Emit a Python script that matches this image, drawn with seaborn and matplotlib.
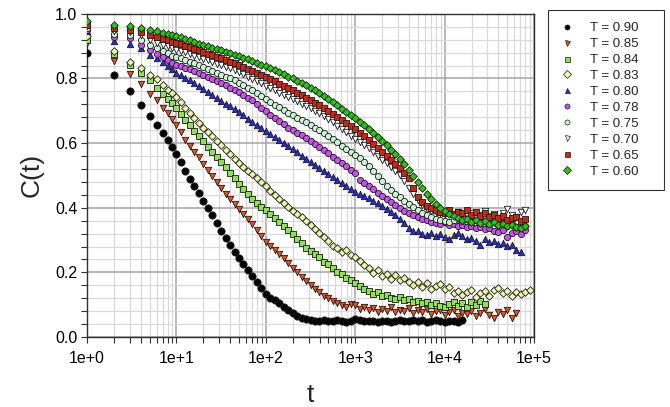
import numpy as np
import matplotlib
matplotlib.use("Agg")
import matplotlib.pyplot as plt
import seaborn as sns
from matplotlib.ticker import LogLocator, FuncFormatter, MultipleLocator, NullFormatter

# ---------------- data ----------------
T_TIMES = [1, 2, 3, 4, 5, 6, 7, 8, 9,
           10, 11.2, 12.6, 14.1, 15.8, 17.8, 20.0, 22.4, 25.1, 28.2,
           31.6, 35.5, 39.8, 44.7, 50.1, 56.2, 63.1, 70.8, 79.4, 89.1,
           100, 112, 126, 141, 158, 178, 200, 224, 251, 282,
           316, 355, 398, 447, 501, 562, 631, 708, 794, 891,
           1000, 1122, 1259, 1413, 1585, 1778, 1995, 2239, 2512, 2818,
           3162, 3548, 3981, 4467, 5012, 5623, 6310, 7079, 7943, 8913,
           10000, 11220, 12589, 14125, 15849, 17783, 19953, 22387, 25119, 28184,
           31623, 35481, 39811, 44668, 50119, 56234, 63096, 70795, 79433, 89125]

C_090 = [0.880, 0.811, 0.762, 0.718, 0.685, 0.656, 0.632, 0.610, 0.589,
         0.567, 0.540, 0.514, 0.489, 0.467, 0.445, 0.422, 0.398, 0.376, 0.353,
         0.328, 0.305, 0.284, 0.264, 0.245, 0.227, 0.208, 0.189, 0.171, 0.152,
         0.134, 0.122, 0.113, 0.104, 0.094, 0.085, 0.074, 0.066, 0.060, 0.055,
         0.053, 0.051, 0.049, 0.052, 0.050, 0.048, 0.052, 0.050, 0.047, 0.051,
         0.055, 0.053, 0.049, 0.048, 0.050, 0.046, 0.049, 0.051, 0.047, 0.050,
         0.052, 0.048, 0.051, 0.054, 0.049, 0.052, 0.047, 0.050, 0.053, 0.048,
         0.047, 0.051, 0.049, 0.046, 0.052]

C_085 = [0.910, 0.855, 0.814, 0.783, 0.752, 0.732, 0.709, 0.692, 0.676,
         0.655, 0.633, 0.611, 0.590, 0.573, 0.557, 0.536, 0.517, 0.498, 0.479,
         0.461, 0.444, 0.428, 0.412, 0.397, 0.381, 0.366, 0.350, 0.331, 0.314,
         0.294, 0.282, 0.270, 0.257, 0.243, 0.229, 0.215, 0.201, 0.187, 0.174,
         0.160, 0.150, 0.138, 0.128, 0.121, 0.112, 0.106, 0.098, 0.092, 0.103,
         0.100, 0.086, 0.094, 0.082, 0.090, 0.078, 0.088, 0.081, 0.092, 0.076,
         0.085, 0.079, 0.090, 0.074, 0.083, 0.077, 0.088, 0.072, 0.080, 0.085,
         0.069, 0.078, 0.084, 0.066, 0.075, 0.070, 0.081, 0.064, 0.073, 0.086,
         0.068, 0.060, 0.076, 0.071, 0.082, 0.059, 0.074]

C_084 = [0.920, 0.877, 0.843, 0.817, 0.794, 0.771, 0.752, 0.738, 0.725,
         0.708, 0.689, 0.672, 0.655, 0.638, 0.622, 0.605, 0.589, 0.573, 0.558,
         0.542, 0.525, 0.508, 0.491, 0.474, 0.458, 0.443, 0.428, 0.414, 0.402,
         0.392, 0.380, 0.368, 0.355, 0.342, 0.330, 0.318, 0.304, 0.290, 0.276,
         0.266, 0.256, 0.246, 0.232, 0.226, 0.214, 0.201, 0.195, 0.183, 0.176,
         0.166, 0.157, 0.148, 0.142, 0.134, 0.138, 0.127, 0.131, 0.122, 0.118,
         0.124, 0.113, 0.117, 0.108, 0.112, 0.104, 0.109, 0.100, 0.106, 0.097,
         0.093, 0.101, 0.109, 0.096, 0.104, 0.092, 0.107, 0.098, 0.110, 0.101]

C_083 = [0.930, 0.884, 0.851, 0.833, 0.812, 0.797, 0.781, 0.765, 0.754,
         0.742, 0.726, 0.709, 0.692, 0.677, 0.662, 0.648, 0.635, 0.621, 0.607,
         0.594, 0.580, 0.566, 0.552, 0.539, 0.526, 0.515, 0.503, 0.492, 0.480,
         0.467, 0.453, 0.440, 0.428, 0.416, 0.403, 0.390, 0.382, 0.371, 0.360,
         0.347, 0.334, 0.321, 0.310, 0.298, 0.283, 0.274, 0.262, 0.268, 0.254,
         0.247, 0.236, 0.222, 0.214, 0.199, 0.207, 0.188, 0.195, 0.181, 0.192,
         0.176, 0.184, 0.169, 0.162, 0.171, 0.155, 0.166, 0.150, 0.158, 0.163,
         0.147, 0.154, 0.136, 0.142, 0.131, 0.140, 0.146, 0.124, 0.137, 0.141,
         0.128, 0.145, 0.152, 0.135, 0.141, 0.126, 0.138, 0.132, 0.140, 0.146]

C_080 = [0.946, 0.915, 0.907, 0.893, 0.874, 0.862, 0.850, 0.838, 0.829,
         0.818, 0.810, 0.802, 0.794, 0.786, 0.777, 0.768, 0.759, 0.750, 0.740,
         0.731, 0.722, 0.714, 0.705, 0.696, 0.686, 0.676, 0.666, 0.656, 0.647,
         0.638, 0.629, 0.620, 0.610, 0.600, 0.591, 0.581, 0.571, 0.561, 0.551,
         0.542, 0.533, 0.524, 0.515, 0.505, 0.496, 0.487, 0.478, 0.468, 0.459,
         0.450, 0.443, 0.436, 0.429, 0.422, 0.415, 0.406, 0.397, 0.388, 0.378,
         0.366, 0.352, 0.338, 0.328, 0.327, 0.320, 0.316, 0.322, 0.312, 0.318,
         0.309, 0.304, 0.316, 0.321, 0.312, 0.302, 0.307, 0.298, 0.285, 0.303,
         0.294, 0.298, 0.287, 0.290, 0.282, 0.285, 0.270, 0.262]

C_078 = [0.950, 0.928, 0.924, 0.905, 0.887, 0.876, 0.866, 0.858, 0.849,
         0.843, 0.838, 0.833, 0.828, 0.822, 0.816, 0.810, 0.804, 0.798, 0.792,
         0.786, 0.779, 0.772, 0.765, 0.757, 0.749, 0.741, 0.732, 0.722, 0.710,
         0.698, 0.688, 0.678, 0.668, 0.658, 0.648, 0.640, 0.632, 0.624, 0.615,
         0.606, 0.597, 0.588, 0.578, 0.568, 0.558, 0.548, 0.538, 0.528, 0.518,
         0.508, 0.486, 0.478, 0.468, 0.457, 0.445, 0.436, 0.426, 0.417, 0.408,
         0.398, 0.389, 0.383, 0.376, 0.370, 0.366, 0.362, 0.357, 0.353, 0.350,
         0.355, 0.346, 0.351, 0.343, 0.347, 0.339, 0.344, 0.336, 0.341, 0.333,
         0.338, 0.329, 0.326, 0.331, 0.310, 0.322, 0.329, 0.318, 0.330]

C_075 = [0.957, 0.938, 0.936, 0.920, 0.903, 0.893, 0.885, 0.878, 0.871,
         0.866, 0.862, 0.857, 0.852, 0.847, 0.842, 0.836, 0.830, 0.824, 0.818,
         0.812, 0.806, 0.800, 0.794, 0.787, 0.779, 0.771, 0.763, 0.754, 0.745,
         0.736, 0.727, 0.719, 0.711, 0.702, 0.694, 0.686, 0.679, 0.672, 0.665,
         0.657, 0.648, 0.640, 0.632, 0.622, 0.612, 0.602, 0.592, 0.582, 0.572,
         0.563, 0.553, 0.540, 0.528, 0.513, 0.497, 0.482, 0.468, 0.455, 0.443,
         0.432, 0.421, 0.411, 0.402, 0.392, 0.383, 0.376, 0.371, 0.366, 0.362,
         0.358, 0.356, 0.362, 0.368, 0.360, 0.365, 0.357, 0.362, 0.354, 0.359,
         0.350, 0.355, 0.348, 0.352, 0.344, 0.349, 0.341, 0.337, 0.345]

C_070 = [0.962, 0.948, 0.944, 0.933, 0.918, 0.911, 0.905, 0.899, 0.893,
         0.889, 0.885, 0.881, 0.876, 0.871, 0.866, 0.861, 0.856, 0.851, 0.846,
         0.841, 0.836, 0.831, 0.826, 0.820, 0.813, 0.806, 0.799, 0.792, 0.785,
         0.778, 0.770, 0.763, 0.756, 0.749, 0.742, 0.736, 0.729, 0.722, 0.715,
         0.708, 0.700, 0.692, 0.684, 0.674, 0.664, 0.654, 0.643, 0.633, 0.623,
         0.614, 0.604, 0.594, 0.584, 0.573, 0.561, 0.549, 0.537, 0.526, 0.514,
         0.500, 0.482, 0.462, 0.441, 0.423, 0.408, 0.397, 0.391, 0.386, 0.383,
         0.380, 0.385, 0.378, 0.388, 0.381, 0.376, 0.384, 0.372, 0.379, 0.389,
         0.374, 0.381, 0.368, 0.383, 0.396, 0.377, 0.371, 0.386, 0.392]

C_065 = [0.966, 0.957, 0.951, 0.944, 0.934, 0.928, 0.923, 0.918, 0.913,
         0.910, 0.906, 0.901, 0.897, 0.892, 0.887, 0.882, 0.877, 0.872, 0.867,
         0.862, 0.857, 0.852, 0.847, 0.841, 0.835, 0.829, 0.823, 0.817, 0.811,
         0.805, 0.798, 0.791, 0.784, 0.777, 0.770, 0.763, 0.756, 0.749, 0.741,
         0.733, 0.725, 0.717, 0.709, 0.700, 0.691, 0.682, 0.673, 0.663, 0.653,
         0.643, 0.632, 0.621, 0.610, 0.598, 0.586, 0.574, 0.561, 0.548, 0.536,
         0.522, 0.507, 0.492, 0.462, 0.434, 0.417, 0.405, 0.398, 0.392, 0.388,
         0.385, 0.392, 0.381, 0.388, 0.383, 0.394, 0.379, 0.386, 0.375, 0.384,
         0.370, 0.379, 0.368, 0.374, 0.361, 0.367, 0.372, 0.358, 0.366]

C_060 = [0.977, 0.967, 0.962, 0.957, 0.949, 0.946, 0.942, 0.938, 0.935,
         0.932, 0.927, 0.922, 0.918, 0.913, 0.908, 0.903, 0.899, 0.895, 0.891,
         0.887, 0.883, 0.878, 0.874, 0.869, 0.864, 0.859, 0.853, 0.848, 0.843,
         0.838, 0.832, 0.826, 0.820, 0.813, 0.806, 0.800, 0.793, 0.786, 0.779,
         0.771, 0.763, 0.755, 0.746, 0.737, 0.727, 0.717, 0.707, 0.697, 0.687,
         0.677, 0.666, 0.655, 0.643, 0.631, 0.619, 0.606, 0.593, 0.579, 0.565,
         0.550, 0.534, 0.517, 0.498, 0.479, 0.461, 0.444, 0.428, 0.413, 0.400,
         0.390, 0.381, 0.374, 0.367, 0.362, 0.366, 0.357, 0.362, 0.354, 0.358,
         0.350, 0.355, 0.346, 0.351, 0.343, 0.347, 0.340, 0.336, 0.343]

LABELS = ["T = 0.90", "T = 0.85", "T = 0.84", "T = 0.83", "T = 0.80",
          "T = 0.78", "T = 0.75", "T = 0.70", "T = 0.65", "T = 0.60"]
SERIES = [C_090, C_085, C_084, C_083, C_080, C_078, C_075, C_070, C_065, C_060]

# ---------------- style ----------------
MARKERS = ["o", "v", "s", "D", "^", "o", "o", "v", "s", "D"]
FACES = ["#000000", "#e8501c", "#8ee058", "#eef7b0", "#2a2ad0",
         "#c454e8", "#cdf3d4", "#ffffff", "#c42a10", "#2ec414"]
SIZES = [27, 21, 18, 15, 21, 20, 20, 21, 18, 15]

sns.set_theme(style="white")
plt.rcParams["font.family"] = ["Liberation Sans", "DejaVu Sans"]

fig = plt.figure(figsize=(6.7, 4.07), dpi=100)
ax = fig.add_axes([0.130, 0.172, 0.667, 0.794])

handles = []
for lab, vals, mk, fc, sz in zip(LABELS, SERIES, MARKERS, FACES, SIZES):
    n = len(vals)
    sns.scatterplot(x=T_TIMES[:n], y=vals, marker=mk, color=fc,
                    edgecolor="#1a1a1a", linewidth=0.6, s=sz, ax=ax,
                    zorder=3, legend=False)
    handles.append(plt.Line2D([], [], linestyle="none", marker=mk,
                              markerfacecolor=fc, markeredgecolor="#1a1a1a",
                              markeredgewidth=0.5, markersize=3.6))

ax.set_xscale("log")
ax.set_xlim(1, 1e5)
ax.set_ylim(0, 1.0)

ax.xaxis.set_major_locator(LogLocator(base=10, numticks=10))
ax.xaxis.set_minor_locator(LogLocator(base=10, subs=np.arange(2, 10), numticks=50))
ax.xaxis.set_major_formatter(FuncFormatter(lambda v, p: "1e+%d" % int(round(np.log10(v)))))
ax.xaxis.set_minor_formatter(NullFormatter())
ax.yaxis.set_major_locator(MultipleLocator(0.2))
ax.yaxis.set_minor_locator(MultipleLocator(0.04))
ax.yaxis.set_major_formatter(FuncFormatter(lambda v, p: "%.1f" % v))

ax.set_axisbelow(True)
ax.grid(which="minor", color="#dadada", linewidth=0.9)
ax.grid(which="major", color="#a6a6a6", linewidth=1.1)

for side in ["left", "bottom", "top", "right"]:
    ax.spines[side].set_visible(True)
    ax.spines[side].set_color("#303030")
    ax.spines[side].set_linewidth(1.0)

ax.tick_params(which="both", direction="out", length=4, width=0.8,
               color="#303030", labelsize=11.5, labelcolor="black",
               bottom=True, left=True, top=False, right=False)
ax.tick_params(axis="x", which="major", pad=6)
ax.tick_params(axis="y", which="major", pad=3)

ax.set_xlabel("t", fontsize=19, labelpad=12)
ax.set_ylabel("C(t)", fontsize=19, labelpad=8)

leg = fig.legend(handles, LABELS, loc="upper left",
                 bbox_to_anchor=(0.818, 0.538, 0.173, 0.437), mode="expand",
                 frameon=True, fancybox=False,
                 edgecolor="#000000", fontsize=9.5, labelspacing=0.28,
                 handletextpad=1.3, handlelength=1.0, borderpad=0.9,
                 borderaxespad=0.0)
leg.get_frame().set_linewidth(0.8)

fig.savefig("out.png", dpi=100)
